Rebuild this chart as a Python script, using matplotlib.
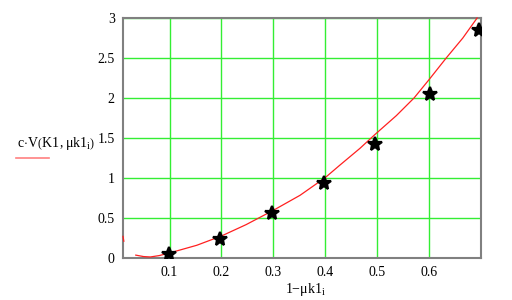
import numpy as np
import matplotlib
matplotlib.use("Agg")
import matplotlib.pyplot as plt

plt.rcParams['font.family'] = ['Liberation Serif', 'DejaVu Serif']
plt.rcParams['mathtext.fontset'] = 'custom'
plt.rcParams['mathtext.rm'] = 'Liberation Serif'
plt.rcParams['mathtext.it'] = 'Liberation Serif:italic'

# measured points (stars)
x_meas = [0.099, 0.198, 0.297, 0.398, 0.495, 0.601, 0.6956]
y_meas = [0.055, 0.234, 0.56, 0.94, 1.42, 2.05, 2.855]

# fitted curve (NaN = gap in the curve)
x_fit = [0.0104, 0.012, np.nan, 0.035, 0.04, 0.05, 0.063, 0.08, 0.1, 0.1525, 0.2,
         0.2475, 0.3, 0.3515, 0.4, 0.428, 0.4667, 0.4956, 0.537, 0.571, 0.6, 0.633,
         0.665, 0.6925]
y_fit = [0.27, 0.21, np.nan, 0.036, 0.03, 0.018, 0.013, 0.03, 0.063, 0.159, 0.275,
         0.417, 0.596, 0.784, 1.005, 1.16, 1.37, 1.543, 1.78, 2.0, 2.23, 2.5,
         2.75, 3.0]

x_ticks = [0.1, 0.2, 0.3, 0.4, 0.5, 0.6]
y_ticks = [0, 0.5, 1, 1.5, 2, 2.5, 3]

fig = plt.figure(figsize=(5.12, 3.0), dpi=100)
ax = fig.add_axes([123/512, 1 - 258/300, (481-123)/512, (258-18)/300])

ax.plot(x_fit, y_fit, color='#ff2020', lw=0.9, zorder=3, clip_on=False)
ax.plot(x_meas, y_meas, linestyle='none', marker='*', markersize=10,
        color='black', markeredgewidth=1.6, zorder=4)

ax.set_xlim(0.0104, 0.7)
ax.set_ylim(0, 3)
ax.set_xticks(x_ticks)
ax.set_xticklabels([f"{v:g}" for v in x_ticks])
ax.set_yticks(y_ticks)
ax.set_yticklabels([f"{v:g}" for v in y_ticks])
ax.tick_params(length=0, labelsize=10, pad=6)
ax.grid(True, color='#33ee33', lw=1)
ax.set_axisbelow(True)
for s in ax.spines.values():
    s.set_color('#808080')
    s.set_linewidth(1.5)

fig.text(305/512, 1 - 290/300, r"$\mathrm{1{-}\mu k1_i}$", ha='center', va='center', fontsize=10)
fig.text(17/512, 1 - 143/300, r"$\mathrm{c{\cdot}V\left(K1\,,\mu k1_i\right)}$", ha='left', va='center', fontsize=10)
fig.add_artist(plt.Line2D([16/512, 49/512], [1 - 158/300, 1 - 158/300], color='#ff8080', lw=1.2))

fig.savefig("out.png", dpi=100)
